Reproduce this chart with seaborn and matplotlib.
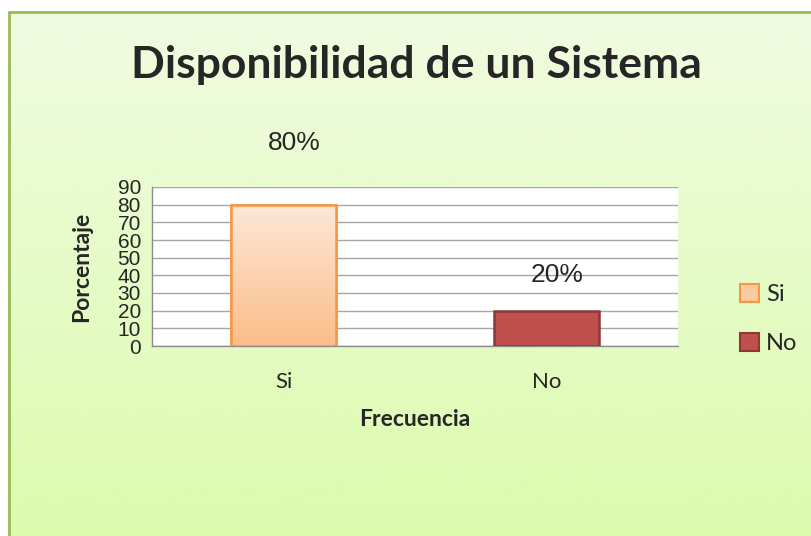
import numpy as np
import matplotlib
matplotlib.use("Agg")
import matplotlib.pyplot as plt
import seaborn as sns
from matplotlib.patches import Patch

categories = ["Si", "No"]
percentages = [80, 20]
value_labels = ["80%", "20%"]
label_heights = [115, 40]  # where Excel put the data labels (axis units)
y_ticks = [0, 10, 20, 30, 40, 50, 60, 70, 80, 90]

bar_colors = ["#fbcaa0", "#c0504d"]
edge_colors = ["#f79646", "#8c3836"]

sns.set_style("white")
plt.rcParams["font.family"] = ["Liberation Sans", "DejaVu Sans"]
lato = ["Lato", "DejaVu Sans"]

fig = plt.figure(figsize=(8.12, 5.36), dpi=100)
fig.patch.set_facecolor("white")

# gradient panel behind the chart
bg = fig.add_axes([8 / 812, 0, 1, 524 / 536])
grad = np.linspace(0, 1, 256)[:, None]
bg_cmap = matplotlib.colors.LinearSegmentedColormap.from_list("bg", ["#f0fbe1", "#dcfbae"])
bg.imshow(grad, aspect="auto", cmap=bg_cmap, extent=[0, 1, 0, 1], origin="upper")
bg.set_xlim(0, 1)
bg.set_ylim(0, 1)
bg.set_axis_off()
fig.add_artist(plt.Line2D([9 / 812, 9 / 812], [0, 524 / 536], color="#9bbb59", lw=2))
fig.add_artist(plt.Line2D([9 / 812, 1], [524 / 536, 524 / 536], color="#9bbb59", lw=2))

ax = fig.add_axes([152 / 812, 190 / 536, 526 / 812, 159 / 536])
sns.barplot(x=categories, y=percentages, hue=categories, palette=bar_colors,
            width=0.4, saturation=1, legend=False, ax=ax, zorder=3)
ax.set_facecolor("white")

for bar, ec in zip(ax.patches, edge_colors):
    bar.set_edgecolor(ec)
    bar.set_linewidth(1.8)

# soft vertical gradient on the "Si" bar
si_bar = ax.patches[0]
x0, w = si_bar.get_x(), si_bar.get_width()
si_cmap = matplotlib.colors.LinearSegmentedColormap.from_list("si", ["#fde8d8", "#fbbd88"])
img = ax.imshow(grad, aspect="auto", cmap=si_cmap, extent=[x0, x0 + w, 0, percentages[0]],
                origin="upper", zorder=3.5)
img.set_clip_path(si_bar)
ax.add_patch(plt.Rectangle((x0, 0), w, percentages[0], fill=False,
                           edgecolor=edge_colors[0], lw=1.8, zorder=4))

ax.set_xlim(-0.5, 1.5)
ax.set_ylim(0, 90)
ax.set_yticks(y_ticks)
ax.tick_params(axis="y", labelsize=15, length=7, width=1, color="#8c8c8c", pad=1)
ax.yaxis.grid(True, color="#a6a6a6", lw=1, zorder=0)
ax.set_axisbelow(True)
ax.set_xticks([0, 1])
ax.set_xticklabels(categories, fontsize=16, family=lato)
ax.set_xticks([-0.5, 0.5, 1.5], minor=True)
ax.tick_params(axis="x", which="major", length=0, pad=19)
ax.tick_params(axis="x", which="minor", length=7, width=1, color="#8c8c8c")
for s in ["top", "right"]:
    ax.spines[s].set_visible(False)
for s in ["left", "bottom"]:
    ax.spines[s].set_color("#8c8c8c")
    ax.spines[s].set_linewidth(1)

for i, (h, lab) in enumerate(zip(label_heights, value_labels)):
    ax.text(i + 0.04, h, lab, ha="center", va="center", fontsize=19, clip_on=False)

ax.set_ylabel("Porcentaje", fontsize=16.5, fontweight="bold", family=lato, labelpad=18)
ax.set_xlabel("Frecuencia", fontsize=16.5, fontweight="bold", family=lato, labelpad=12)

fig.text(416 / 812, 1 - 65 / 536, "Disponibilidad de un Sistema", ha="center", va="center",
         fontsize=32, fontweight="bold", family=lato)

handles = [Patch(facecolor=c, edgecolor=e, lw=1.5) for c, e in zip(bar_colors, edge_colors)]
fig.legend(handles, categories, loc="center left", bbox_to_anchor=(719 / 812, 1 - 319 / 536),
           frameon=False, handlelength=0.8, handleheight=0.8,
           handletextpad=0.3, labelspacing=1.2, prop={"family": lato, "size": 17})

fig.savefig("out.png", dpi=100)
